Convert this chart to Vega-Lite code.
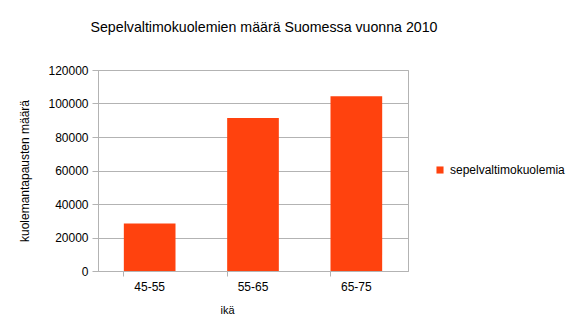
{
  "$schema": "https://vega.github.io/schema/vega-lite/v6.json",
  "autosize": "none",
  "width": 310,
  "height": 201,
  "padding": {"left": 98, "top": 70, "right": 161, "bottom": 58},
  "background": "white",
  "config": {
    "font": "Liberation Sans",
    "view": {"stroke": "#b3b3b3", "strokeWidth": 1}
  },
  "title": {
    "text": "Sepelvaltimokuolemien määrä Suomessa vuonna 2010",
    "fontSize": 14.2,
    "fontWeight": "normal",
    "color": "#000000",
    "anchor": "middle",
    "dx": 11,
    "offset": 29
  },
  "data": {
    "values": [
      {"ika": "45-55", "arvo": 28300, "sarja": "sepelvaltimokuolemia"},
      {"ika": "55-65", "arvo": 91300, "sarja": "sepelvaltimokuolemia"},
      {"ika": "65-75", "arvo": 104400, "sarja": "sepelvaltimokuolemia"}
    ]
  },
  "mark": {"type": "bar"},
  "encoding": {
    "x": {
      "field": "ika",
      "type": "nominal",
      "scale": {"paddingInner": 0.5, "paddingOuter": 0.25},
      "axis": {
        "title": "ikä",
        "titleFontWeight": "normal",
        "titleFontSize": 11,
        "titleColor": "#000000",
        "titleX": 129,
        "titlePadding": 12,
        "labelAngle": 0,
        "labelFontSize": 12,
        "labelColor": "#000000",
        "labelPadding": 5,
        "bandPosition": 0,
        "tickColor": "#b3b3b3",
        "tickSize": 5,
        "domainColor": "#b3b3b3",
        "grid": false
      }
    },
    "y": {
      "field": "arvo",
      "type": "quantitative",
      "scale": {"domain": [0, 120000], "nice": false},
      "axis": {
        "title": "kuolemantapausten määrä",
        "titleFontWeight": "normal",
        "titleFontSize": 12,
        "titleColor": "#000000",
        "titlePadding": 16,
        "values": [0, 20000, 40000, 60000, 80000, 100000, 120000],
        "format": "d",
        "labelFontSize": 12,
        "labelColor": "#000000",
        "labelPadding": 4,
        "tickColor": "#b3b3b3",
        "tickSize": 6,
        "domainColor": "#b3b3b3",
        "gridColor": "#b3b3b3"
      }
    },
    "color": {
      "field": "sarja",
      "type": "nominal",
      "scale": {"range": ["#ff420e"]},
      "legend": {
        "title": null,
        "orient": "none",
        "legendX": 336,
        "legendY": 94,
        "symbolType": "square",
        "symbolSize": 50,
        "symbolStrokeWidth": 0,
        "labelFontSize": 12,
        "labelColor": "#000000",
        "labelOffset": 4
      }
    }
  }
}
